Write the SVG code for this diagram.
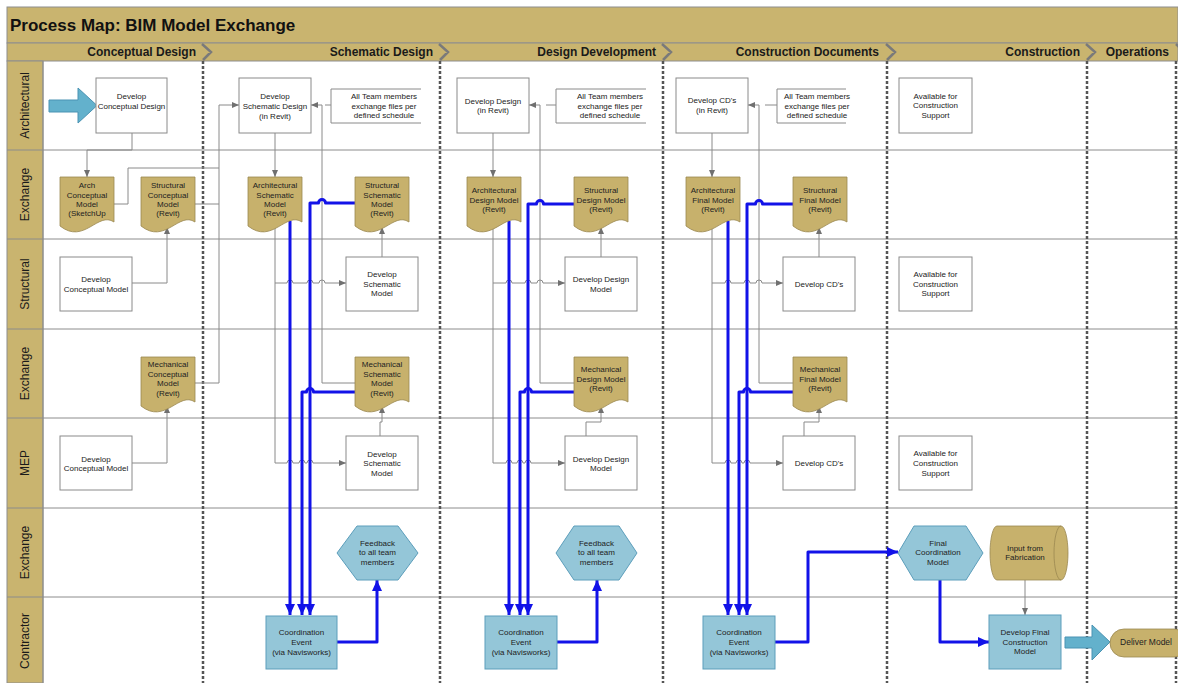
<svg xmlns="http://www.w3.org/2000/svg" width="1178" height="683" viewBox="0 0 1178 683">
<style>
text{font-family:"Liberation Sans",Arial,Helvetica,sans-serif}
.t{font-size:8px;fill:#222;text-anchor:middle}
.hd{font-size:12px;font-weight:bold;fill:#1a1a1a;text-anchor:end}
.ln{font-size:12px;fill:#1a1a1a;text-anchor:middle}
.band{fill:#C9B46F;stroke:#8e8e8e;stroke-width:1}
.box{fill:#fff;stroke:#8a8a8a;stroke-width:1}
.doc{fill:#C7B16C;stroke:#9a8850;stroke-width:0.8}
.blu{fill:#94C6D8;stroke:#5C9EBB;stroke-width:1}
.ann{fill:none;stroke:#8a8a8a;stroke-width:1}
.lane{stroke:#8c8c8c;stroke-width:1;fill:none}
.div{stroke:#555;stroke-width:2.5;stroke-dasharray:3 2;fill:none}
.chev{stroke:#7a7a7a;stroke-width:2.5;fill:none}
.g{fill:none;stroke:#8a8a8a;stroke-width:1}
.b{fill:none;stroke:#1212E8;stroke-width:3;stroke-linejoin:round}
.big{fill:#63B1CC;stroke:#4A93B3;stroke-width:1}
</style>
<defs>
<path id="docShape" class="doc" d="M0,0 H54 V45 C37.8,34 24.3,68 0,49 Z"/>
<marker id="ga" markerUnits="userSpaceOnUse" markerWidth="7" markerHeight="6" refX="7" refY="3" orient="auto"><path d="M0,0 L7,3 L0,6 Z" fill="#707070"/></marker>
<marker id="ba" markerUnits="userSpaceOnUse" markerWidth="11" markerHeight="10" refX="11" refY="5" orient="auto"><path d="M0,0 L11,5 L0,10 Z" fill="#1212E8"/></marker>
</defs>

<!-- frame / bands -->
<g id="frame">
<rect x="0" y="0" width="1178" height="683" fill="#fff"/>
<rect class="band" x="7" y="7" width="1171" height="36"/>
<rect class="band" x="7" y="43" width="1171" height="18"/>
<rect class="band" x="7" y="61" width="36" height="622"/>
<text x="10" y="31" style="font-size:17px;font-weight:bold;fill:#111">Process Map: BIM Model Exchange</text>
<text class="hd" x="196" y="56">Conceptual Design</text>
<text class="hd" x="433" y="56">Schematic Design</text>
<text class="hd" x="656" y="56">Design Development</text>
<text class="hd" x="879" y="56">Construction Documents</text>
<text class="hd" x="1080" y="56">Construction</text>
<text class="hd" x="1169" y="56">Operations</text>
<path class="chev" d="M202,44 L211,52 L203,60 M439,44 L448,52 L440,60 M662,44 L671,52 L663,60 M886,44 L895,52 L887,60 M1086,44 L1095,52 L1087,60 M1176,44 L1180,48"/>
</g>

<g id="lanes">
<path class="lane" d="M7,150 H1178 M7,239 H1178 M7,329 H1178 M7,418 H1178 M7,508 H1178 M7,597 H1178 M43,61 V683"/>
<text class="ln" transform="translate(29,105.5) rotate(-90)">Architectural</text>
<text class="ln" transform="translate(29,194.5) rotate(-90)">Exchange</text>
<text class="ln" transform="translate(29,284) rotate(-90)">Structural</text>
<text class="ln" transform="translate(29,373.5) rotate(-90)">Exchange</text>
<text class="ln" transform="translate(29,463) rotate(-90)">MEP</text>
<text class="ln" transform="translate(29,552.5) rotate(-90)">Exchange</text>
<text class="ln" transform="translate(29,641) rotate(-90)">Contractor</text>
<path class="div" d="M203,61 V683 M440,61 V683 M663,61 V683 M887,61 V683 M1087,61 V683 M1176,61 V683"/>
</g>

<!-- connectors -->
<g id="connectors">
<!-- gray -->
<path class="g" marker-end="url(#ga)" d="M132,133 V150 H87 V177"/>
<path class="g" marker-end="url(#ga)" d="M132,283 H167 V227"/>
<path class="g" marker-end="url(#ga)" d="M132,463 H167 V406"/>
<path class="g" marker-end="url(#ga)" d="M114,204 H128 V168 H219 V105 H239"/>
<path class="g" d="M194,204 H219 M194,383 H219 V168"/>

<path class="g" marker-end="url(#ga)" d="M275,133 V177"/>
<path class="g" marker-end="url(#ga)" d="M275,224 V283 H287 A3,3 0 0 1 293,283 H307 A3,3 0 0 1 313,283 H319 A3,3 0 0 1 325,283 H346"/>
<path class="g" marker-end="url(#ga)" d="M275,283 V463 H287 A3,3 0 0 1 293,463 H299 A3,3 0 0 1 305,463 H307 A3,3 0 0 1 313,463 H346"/>
<path class="g" marker-end="url(#ga)" d="M382,257 V227"/>
<path class="g" marker-end="url(#ga)" d="M380,436 V422 H382 V406"/>
<path class="g" marker-end="url(#ga)" d="M355,383 H322 V105 H311"/>
<path class="g" d="M325,105 H331"/>

<path class="g" marker-end="url(#ga)" d="M493,133 V177"/>
<path class="g" marker-end="url(#ga)" d="M493,224 V283 H506 A3,3 0 0 1 512,283 H525 A3,3 0 0 1 531,283 H537 A3,3 0 0 1 543,283 H565"/>
<path class="g" marker-end="url(#ga)" d="M493,283 V463 H506 A3,3 0 0 1 512,463 H517 A3,3 0 0 1 523,463 H525 A3,3 0 0 1 531,463 H565"/>
<path class="g" marker-end="url(#ga)" d="M601,257 V227"/>
<path class="g" marker-end="url(#ga)" d="M586,436 V422 H601 V406"/>
<path class="g" marker-end="url(#ga)" d="M574,383 H540 V105 H529"/>
<path class="g" d="M546,105 H556"/>

<path class="g" marker-end="url(#ga)" d="M712,133 V177"/>
<path class="g" marker-end="url(#ga)" d="M712,224 V283 H725 A3,3 0 0 1 731,283 H744 A3,3 0 0 1 750,283 H756 A3,3 0 0 1 762,283 H783"/>
<path class="g" marker-end="url(#ga)" d="M712,283 V463 H725 A3,3 0 0 1 731,463 H736 A3,3 0 0 1 742,463 H744 A3,3 0 0 1 750,463 H783"/>
<path class="g" marker-end="url(#ga)" d="M819,257 V227"/>
<path class="g" marker-end="url(#ga)" d="M804,436 V422 H819 V406"/>
<path class="g" marker-end="url(#ga)" d="M793,383 H759 V105 H748"/>
<path class="g" d="M765,105 H777"/>

<path class="g" marker-end="url(#ga)" d="M1025,580 V615"/>

<!-- blue -->
<path class="b" marker-end="url(#ba)" d="M290,221 V615"/>
<path class="b" marker-end="url(#ba)" d="M355,203 H325.5 A3.5,3.5 0 0 0 318.5,203 H310 V615"/>
<path class="b" marker-end="url(#ba)" d="M355,392 H313.5 A3.5,3.5 0 0 0 306.5,392 H302 V615"/>
<path class="b" marker-end="url(#ba)" d="M337,642 H377 V580"/>

<path class="b" marker-end="url(#ba)" d="M509,221 V615"/>
<path class="b" marker-end="url(#ba)" d="M574,204 H543.5 A3.5,3.5 0 0 0 536.5,204 H528 V615"/>
<path class="b" marker-end="url(#ba)" d="M574,392 H531.5 A3.5,3.5 0 0 0 524.5,392 H520 V615"/>
<path class="b" marker-end="url(#ba)" d="M557,642 H597 V580"/>

<path class="b" marker-end="url(#ba)" d="M728,221 V615"/>
<path class="b" marker-end="url(#ba)" d="M793,204 H762.5 A3.5,3.5 0 0 0 755.5,204 H747 V615"/>
<path class="b" marker-end="url(#ba)" d="M793,392 H750.5 A3.5,3.5 0 0 0 743.5,392 H739 V615"/>
<path class="b" marker-end="url(#ba)" d="M775,642 H808 V552 H898"/>
<path class="b" marker-end="url(#ba)" d="M940,580 V642 H989"/>
</g>

<!-- Architectural lane -->
<g id="start-arrow"><path class="big" d="M49,100 H78 V88 L97,105.5 L78,123 V112 H49 Z"/></g>
<g id="dev-conceptual-design"><rect class="box" x="96" y="78" width="71" height="55"/><text class="t" x="131.5" y="99">Develop</text><text class="t" x="131.5" y="109">Conceptual Design</text></g>
<g id="dev-schematic-design"><rect class="box" x="239" y="78" width="72" height="55"/><text class="t" x="275" y="99">Develop</text><text class="t" x="275" y="109">Schematic Design</text><text class="t" x="275" y="119">(in Revit)</text></g>
<g id="note-1"><path class="ann" d="M421,89 H331 V123 H421"/><text class="t" x="384" y="99">All Team members</text><text class="t" x="384" y="109">exchange files per</text><text class="t" x="384" y="118">defined schedule</text></g>
<g id="dev-design"><rect class="box" x="457" y="78" width="72" height="55"/><text class="t" x="493" y="104">Develop Design</text><text class="t" x="493" y="113">(in Revit)</text></g>
<g id="note-2"><path class="ann" d="M646,89 H556 V123 H646"/><text class="t" x="610" y="99">All Team members</text><text class="t" x="610" y="109">exchange files per</text><text class="t" x="610" y="118">defined schedule</text></g>
<g id="dev-cds"><rect class="box" x="676" y="78" width="72" height="55"/><text class="t" x="712" y="103">Develop CD's</text><text class="t" x="712" y="113">(in Revit)</text></g>
<g id="note-3"><path class="ann" d="M846,89 H777 V123 H846"/><text class="t" x="817" y="99">All Team members</text><text class="t" x="817" y="109">exchange files per</text><text class="t" x="817" y="118">defined schedule</text></g>
<g id="avail-arch"><rect class="box" x="899" y="78" width="73" height="55"/><text class="t" x="935.5" y="99">Available for</text><text class="t" x="935.5" y="108">Construction</text><text class="t" x="935.5" y="118">Support</text></g>

<!-- Exchange lane 1 -->
<g id="arch-conceptual-model"><use href="#docShape" x="60" y="177"/><text class="t" x="87" y="188">Arch</text><text class="t" x="87" y="198">Conceptual</text><text class="t" x="87" y="207">Model</text><text class="t" x="87" y="216">(SketchUp</text></g>
<g id="struct-conceptual-model"><use href="#docShape" x="141" y="177"/><text class="t" x="168" y="188">Structural</text><text class="t" x="168" y="198">Conceptual</text><text class="t" x="168" y="207">Model</text><text class="t" x="168" y="216">(Revit)</text></g>
<g id="arch-schematic-model"><use href="#docShape" x="248" y="177"/><text class="t" x="275" y="188">Architectural</text><text class="t" x="275" y="198">Schematic</text><text class="t" x="275" y="207">Model</text><text class="t" x="275" y="216">(Revit)</text></g>
<g id="struct-schematic-model"><use href="#docShape" x="355" y="177"/><text class="t" x="382" y="188">Structural</text><text class="t" x="382" y="198">Schematic</text><text class="t" x="382" y="207">Model</text><text class="t" x="382" y="216">(Revit)</text></g>
<g id="arch-design-model"><use href="#docShape" x="467" y="177"/><text class="t" x="494" y="193">Architectural</text><text class="t" x="494" y="203">Design Model</text><text class="t" x="494" y="212">(Revit)</text></g>
<g id="struct-design-model"><use href="#docShape" x="574" y="177"/><text class="t" x="601" y="193">Structural</text><text class="t" x="601" y="203">Design Model</text><text class="t" x="601" y="212">(Revit)</text></g>
<g id="arch-final-model"><use href="#docShape" x="686" y="177"/><text class="t" x="713" y="193">Architectural</text><text class="t" x="713" y="203">Final Model</text><text class="t" x="713" y="212">(Revit)</text></g>
<g id="struct-final-model"><use href="#docShape" x="793" y="177"/><text class="t" x="820" y="193">Structural</text><text class="t" x="820" y="203">Final Model</text><text class="t" x="820" y="212">(Revit)</text></g>

<!-- Structural lane -->
<g id="struct-dev-conceptual"><rect class="box" x="60" y="257" width="72" height="54"/><text class="t" x="96" y="282">Develop</text><text class="t" x="96" y="292">Conceptual Model</text></g>
<g id="struct-dev-schematic"><rect class="box" x="346" y="257" width="72" height="54"/><text class="t" x="382" y="277">Develop</text><text class="t" x="382" y="287">Schematic</text><text class="t" x="382" y="296">Model</text></g>
<g id="struct-dev-design"><rect class="box" x="565" y="257" width="72" height="54"/><text class="t" x="601" y="282">Develop Design</text><text class="t" x="601" y="292">Model</text></g>
<g id="struct-dev-cds"><rect class="box" x="783" y="257" width="72" height="54"/><text class="t" x="819" y="287">Develop CD's</text></g>
<g id="avail-struct"><rect class="box" x="899" y="257" width="73" height="54"/><text class="t" x="935.5" y="277">Available for</text><text class="t" x="935.5" y="287">Construction</text><text class="t" x="935.5" y="296">Support</text></g>

<!-- Exchange lane 2 -->
<g id="mech-conceptual-model"><use href="#docShape" x="141" y="357"/><text class="t" x="168" y="367">Mechanical</text><text class="t" x="168" y="377">Conceptual</text><text class="t" x="168" y="386">Model</text><text class="t" x="168" y="396">(Revit)</text></g>
<g id="mech-schematic-model"><use href="#docShape" x="355" y="357"/><text class="t" x="382" y="367">Mechanical</text><text class="t" x="382" y="377">Schematic</text><text class="t" x="382" y="386">Model</text><text class="t" x="382" y="396">(Revit)</text></g>
<g id="mech-design-model"><use href="#docShape" x="574" y="357"/><text class="t" x="601" y="372">Mechanical</text><text class="t" x="601" y="382">Design Model</text><text class="t" x="601" y="391">(Revit)</text></g>
<g id="mech-final-model"><use href="#docShape" x="793" y="357"/><text class="t" x="820" y="372">Mechanical</text><text class="t" x="820" y="382">Final Model</text><text class="t" x="820" y="391">(Revit)</text></g>

<!-- MEP lane -->
<g id="mep-dev-conceptual"><rect class="box" x="60" y="436" width="72" height="54"/><text class="t" x="96" y="462">Develop</text><text class="t" x="96" y="471">Conceptual Model</text></g>
<g id="mep-dev-schematic"><rect class="box" x="346" y="436" width="72" height="54"/><text class="t" x="382" y="457">Develop</text><text class="t" x="382" y="466">Schematic</text><text class="t" x="382" y="476">Model</text></g>
<g id="mep-dev-design"><rect class="box" x="565" y="436" width="72" height="54"/><text class="t" x="601" y="462">Develop Design</text><text class="t" x="601" y="471">Model</text></g>
<g id="mep-dev-cds"><rect class="box" x="783" y="436" width="72" height="54"/><text class="t" x="819" y="466">Develop CD's</text></g>
<g id="avail-mep"><rect class="box" x="899" y="436" width="73" height="54"/><text class="t" x="935.5" y="456">Available for</text><text class="t" x="935.5" y="466">Construction</text><text class="t" x="935.5" y="476">Support</text></g>

<!-- Exchange lane 3 -->
<g id="feedback-1"><polygon class="blu" points="337,553 357,526 398,526 418,553 398,580 357,580"/><text class="t" x="377.5" y="546">Feedback</text><text class="t" x="377.5" y="555">to all team</text><text class="t" x="377.5" y="565">members</text></g>
<g id="feedback-2"><polygon class="blu" points="556,553 574,526 619,526 637,553 619,580 574,580"/><text class="t" x="596.5" y="546">Feedback</text><text class="t" x="596.5" y="555">to all team</text><text class="t" x="596.5" y="565">members</text></g>
<g id="final-coordination"><polygon class="blu" points="898,553 914,526 966,526 983,553 966,580 914,580"/><text class="t" x="938" y="546">Final</text><text class="t" x="938" y="555">Coordination</text><text class="t" x="938" y="565">Model</text></g>
<g id="input-fabrication"><path class="doc" d="M997,526 H1061 A7,27 0 0 1 1061,580 H997 A7,27 0 0 1 997,526 Z"/><path class="doc" style="fill:none" d="M1061,526 A7,27 0 0 0 1061,580"/><text class="t" x="1025" y="551">Input from</text><text class="t" x="1025" y="560">Fabrication</text></g>

<!-- Contractor lane -->
<g id="coord-1"><rect class="blu" x="266" y="616" width="71" height="53"/><text class="t" x="301.5" y="635">Coordination</text><text class="t" x="301.5" y="645">Event</text><text class="t" x="301.5" y="655">(via Navisworks)</text></g>
<g id="coord-2"><rect class="blu" x="485" y="616" width="72" height="53"/><text class="t" x="521" y="635">Coordination</text><text class="t" x="521" y="645">Event</text><text class="t" x="521" y="655">(via Navisworks)</text></g>
<g id="coord-3"><rect class="blu" x="703" y="616" width="72" height="53"/><text class="t" x="739" y="635">Coordination</text><text class="t" x="739" y="645">Event</text><text class="t" x="739" y="655">(via Navisworks)</text></g>
<g id="dev-final-construction"><rect class="blu" x="989" y="615" width="72" height="54"/><text class="t" x="1025" y="635">Develop Final</text><text class="t" x="1025" y="645">Construction</text><text class="t" x="1025" y="654">Model</text></g>
<g id="end-arrow"><path class="big" d="M1065,637 H1092 V625 L1110,642 L1092,660 V648 H1065 Z"/></g>
<g id="deliver-model"><rect class="doc" x="1110" y="629" width="78" height="28" rx="14"/><text class="t" x="1146" y="645" style="font-size:8.5px">Deliver Model</text></g>
</svg>
